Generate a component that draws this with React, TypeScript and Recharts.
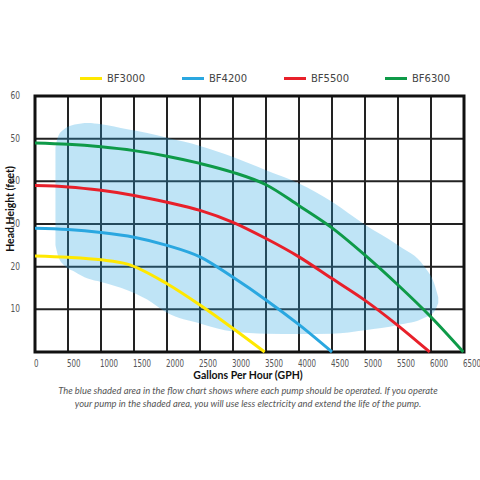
import React from 'react';
import { ComposedChart, Line, Area, XAxis, YAxis, CartesianGrid, ReferenceArea } from 'recharts';

const xTicks = [0, 500, 1000, 1500, 2000, 2500, 3000, 3500, 4000, 4500, 5000, 5500, 6000, 6500];
const yTicks = [0, 10, 20, 30, 40, 50, 60];

const bf3000 = [
  { gph: 0, head: 22.5 }, { gph: 500, head: 22.2 }, { gph: 1000, head: 21.6 }, { gph: 1400, head: 20.6 },
  { gph: 2000, head: 16 }, { gph: 2500, head: 11 }, { gph: 3000, head: 5.5 }, { gph: 3480, head: 0 },
];
const bf4200 = [
  { gph: 0, head: 29 }, { gph: 500, head: 28.7 }, { gph: 1000, head: 28 }, { gph: 1500, head: 26.9 },
  { gph: 2000, head: 25 }, { gph: 2500, head: 22.3 }, { gph: 3000, head: 17.5 }, { gph: 3500, head: 12.2 },
  { gph: 4000, head: 6.4 }, { gph: 4500, head: 0 },
];
const bf5500 = [
  { gph: 0, head: 39 }, { gph: 500, head: 38.7 }, { gph: 1000, head: 37.9 }, { gph: 1500, head: 36.7 },
  { gph: 2000, head: 35.1 }, { gph: 2500, head: 33.2 }, { gph: 3000, head: 30.4 }, { gph: 3500, head: 26.6 },
  { gph: 4000, head: 22.3 }, { gph: 4500, head: 17.2 }, { gph: 5000, head: 12.1 }, { gph: 5500, head: 6.2 },
  { gph: 5980, head: 0 },
];
const bf6300 = [
  { gph: 0, head: 49 }, { gph: 500, head: 48.7 }, { gph: 1000, head: 48.1 }, { gph: 1500, head: 47.2 },
  { gph: 2000, head: 45.9 }, { gph: 2500, head: 44.2 }, { gph: 3000, head: 42.1 }, { gph: 3500, head: 39.2 },
  { gph: 4000, head: 34.3 }, { gph: 4500, head: 29.1 }, { gph: 5000, head: 22.7 }, { gph: 5500, head: 15.7 },
  { gph: 6000, head: 8.2 }, { gph: 6490, head: 0 },
];
const zone = [
  { gph: 310, low: 25, high: 48 }, { gph: 350, low: 22.5, high: 50.5 }, { gph: 450, low: 20.2, high: 52.3 },
  { gph: 600, low: 18.8, high: 53.3 }, { gph: 800, low: 17.2, high: 53.7 }, { gph: 1000, low: 16.4, high: 53.4 },
  { gph: 1400, low: 14.5, high: 52.2 }, { gph: 1700, low: 12.3, high: 51.3 }, { gph: 2000, low: 9.2, high: 50.2 },
  { gph: 2500, low: 6.7, high: 48.3 }, { gph: 3000, low: 4.8, high: 45.7 }, { gph: 3500, low: 4.3, high: 42.6 },
  { gph: 4000, low: 4.2, high: 39.5 }, { gph: 4500, low: 4.3, high: 35.2 }, { gph: 5000, low: 5.1, high: 29.8 },
  { gph: 5500, low: 6.3, high: 25 }, { gph: 5900, low: 8, high: 20 }, { gph: 6050, low: 9.5, high: 16 },
  { gph: 6110, low: 11.5, high: 12.8 },
];

const series = [
  { name: 'BF3000', color: '#FFE800', data: bf3000 },
  { name: 'BF4200', color: '#2AA7E0', data: bf4200 },
  { name: 'BF5500', color: '#E8202A', data: bf5500 },
  { name: 'BF6300', color: '#0E9A48', data: bf6300 },
];

const tickFont = "'DejaVu Sans', sans-serif";
const titleFont = "Lato, 'Open Sans', sans-serif";

const XTick = (props: any) => {
  const { x, y, payload } = props;
  return (
    <text transform={`translate(${x - 1},${y + 7}) scale(0.68,1)`} textAnchor="start" fontFamily={tickFont} fontSize={10.5} fill="#555">
      {payload.value}
    </text>
  );
};
const YTick = (props: any) => {
  const { x, y, payload } = props;
  if (payload.value === 0) return null;
  return (
    <text transform={`translate(${x - 7},${y + 3}) scale(0.68,1)`} textAnchor="end" fontFamily={tickFont} fontSize={11} fill="#555">
      {payload.value}
    </text>
  );
};

const legendLefts = [80, 182, 284, 385];

export default function App() {
  return (
    <div style={{ position: 'absolute', left: 0, top: 0, width: 480, height: 480, background: '#fff' }}>
      <ComposedChart width={480} height={480} margin={{ top: 96, right: 16, bottom: 108, left: 0 }}>
        <CartesianGrid stroke="#222" strokeWidth={2} />
        <XAxis
          dataKey="gph" type="number" domain={[0, 6500]} ticks={xTicks} interval={0}
          allowDataOverflow tick={<XTick />} tickLine={false} axisLine={false} height={20}
        />
        <YAxis
          type="number" domain={[0, 60]} ticks={yTicks} interval={0}
          tick={<YTick />} tickLine={false} axisLine={false} width={35}
        />
        <Area
          data={zone} dataKey={(d: any) => [d.low, d.high]} type="monotone"
          fill="#2AA7E0" fillOpacity={0.3} stroke="none" isAnimationActive={false}
        />
        {series.map((s) => (
          <Line
            key={s.name} data={s.data} dataKey="head" name={s.name} type="monotone"
            stroke={s.color} strokeWidth={3} dot={false} isAnimationActive={false}
          />
        ))}
        <ReferenceArea x1={0} x2={6500} y1={0} y2={60} fill="none" stroke="#111" strokeWidth={3} ifOverflow="visible" />
      </ComposedChart>

      {series.map((s, i) => (
        <div key={s.name} style={{ position: 'absolute', left: legendLefts[i], top: 70, display: 'flex', alignItems: 'center', height: 16 }}>
          <div style={{ width: 22, height: 3, background: s.color, marginRight: 5 }} />
          <span style={{ fontFamily: "'DejaVu Sans', sans-serif", fontSize: 10, color: '#444' }}>{s.name}</span>
        </div>
      ))}

      <div style={{ position: 'absolute', left: 0, top: 209, width: 0, height: 0 }}>
        <div style={{
          position: 'absolute', left: 10, top: 0, transform: 'translate(-50%, -50%) rotate(-90deg)',
          whiteSpace: 'nowrap', fontFamily: titleFont, fontWeight: 700, fontSize: 10.5, color: '#111',
        }}>Head Height (feet)</div>
      </div>

      <div style={{
        position: 'absolute', left: 0, width: 496, top: 369, textAlign: 'center',
        fontFamily: titleFont, fontWeight: 700, fontSize: 10.5, color: '#111',
      }}>Gallons Per Hour (GPH)</div>

      <div style={{
        position: 'absolute', left: 0, width: 496, top: 384, textAlign: 'center',
        fontFamily: titleFont, fontStyle: 'italic', fontWeight: 400, fontSize: 9.4, lineHeight: '13px', color: '#555',
      }}>
        The blue shaded area in the flow chart shows where each pump should be operated. If you operate<br />
        your pump in the shaded area, you will use less electricity and extend the life of the pump.
      </div>
    </div>
  );
}
